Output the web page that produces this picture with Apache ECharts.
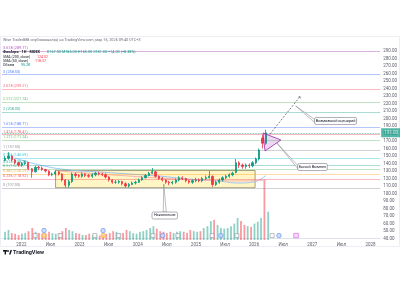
<!DOCTYPE html>
<html><head><meta charset="utf-8">
<script src="https://cdn.jsdelivr.net/npm/echarts@6/dist/echarts.min.js"></script>
<style>html,body{margin:0;padding:0;background:#fff}#c{width:400px;height:300px}</style>
</head><body><div id="c"></div>
<script>
// ---------- DATA ----------
const candleStartUTC = [2021, 8, 20];   // first candle (2021-09-20)
const candleStepDays = 21;
const openV  = [144,147,150,145,141,138,140,141,133,129, 135,134,132,130,125,126,129,126,118,111, 116,126,124,123,126,124,123,125,127,126, 125,122,118,115,115,116,113,110,112,114, 115,118,121,124,127,129,123,120,118,115, 114,115,118,121,120,117,115,117,118,117, 120,121,123,112,115,118,121,123,125,128, 141,138,136,138,137,141,146,174,167];
const closeV = [147,150,145,141,138,140,141,133,129,135, 134,132,130,125,126,129,126,118,111,116, 126,124,123,126,124,123,125,127,126,125, 122,118,115,115,116,113,110,112,114,115, 118,121,124,127,129,123,120,118,115,114, 115,118,121,120,117,115,117,118,117,120, 121,123,112,115,118,121,123,125,127,141, 138,136,138,137,141,146,158,167,181];
const lowV   = [143,145,143,139,136,136,138,131,121,128, 131,130,128,123,123,124,124,116,108,108, 114,121,121,121,122,121,121,123,124,123, 120,116,113,113,113,111,108,108,111,112, 114,117,120,123,126,121,118,116,113,111, 112,113,116,118,115,113,113,115,115,115, 118,120,109,110,113,116,119,121,123,127, 134,133,133,134,135,139,144,160,165];
const highV  = [150,155,151,146,142,142,144,142,134,137, 137,136,133,131,128,131,130,127,119,118, 128,128,126,128,127,126,127,129,129,128, 127,123,119,118,118,117,115,114,116,117, 120,123,126,129,134,130,124,122,119,117, 117,120,123,123,121,118,119,121,120,122, 124,130,124,117,120,123,125,127,129,146, 143,140,140,140,143,148,160,178,185];
const volumeV= [13,16,11,10,8,10,11,14,19,13, 11,10,10,13,11,10,11,14,19,16, 14,11,10,8,8,10,8,8,7,8, 10,11,14,13,10,11,16,14,11,10, 13,14,16,19,22,18,14,13,11,13, 11,13,14,13,11,16,14,13,14,19, 22,30,32,24,19,18,19,22,26,35, 30,24,22,21,26,29,35,95,45];
// x positions are months since 2021-09-01
const xTickMonths = [4,10,16,22,28,34,40,46,52,58,64,70,76];
const xTickLabels = ['2022','Июл','2023','Июл','2024','Июл','2025','Июл','2026','Июл','2027','Июл','2028'];
const maSlow = [[2.66,147.3],[7.78,138],[13.92,131.3],[20.06,128.7],[26.2,126],[32.34,123.3],[38.48,119.3],[44.63,116.7],[48.72,114],[51.79,115.3],[54.45,124]];
const maFast = [[11.87,130],[20.06,126],[26.2,123.3],[32.34,120.7],[40.53,118],[48.72,116.7],[54.45,118]];
const fibBase = 107, fibRange = 50.5;
const fibLevels = [0,0.236,0.382,0.5,0.618,0.786,1,1.272,1.414,1.618,2,2.272,2.618,3,3.618];
const fibColors = ['#787b86','#f23645','#ff9800','#4caf50','#089981','#00bcd4','#787b86','#4caf50','#f23645','#2962ff','#089981','#4caf50','#f23645','#2962ff','#9c27b0'];
const boxRange = [[11.05,130.7],[52.2,107.7]];
const pennant = [[53.84,180.7],[57.52,171.3],[54.25,156.7]];
const scenarioPath = [[55.27,179.3],[61.41,228.7]];
const lastPrice = 181;
const evGray = [6.8,11.9,19.0,23.9,30.9,36.0,43.0,48.1,55.3];
const evBlueHigh = [8.6,20.7];
const evBlueLow = [32.9,44.8,56.7];
const evOrange = [8.6,20.7];
const evPink = [60.2];
const notes = [
  {text:'Возможный сценарий', anchor:[60.6,216.7], box:[64.48,196.7]},
  {text:'Бычий Вымпел', anchor:[56.7,167.3], box:[61.0,135.3]},
  {text:'Накопление', anchor:[33.37,112.7], box:[33.57,75.3]}
];

// ---------- BUILD ----------
function toMonths(ms){const d=new Date(ms);return (d.getUTCFullYear()-2021)*12+(d.getUTCMonth()+1-9)+(d.getUTCDate()-1)/30.44;}
const startMs = Date.UTC(...candleStartUTC);
const candleX = closeV.map((_,i)=>toMonths(startMs+i*candleStepDays*86400000));
const candleData = closeV.map((c,i)=>[candleX[i],openV[i],c,lowV[i],highV[i]]);
const UP='#089981', DN='#f23645';
const volData = volumeV.map((v,i)=>({value:[candleX[i],v],itemStyle:{color:(closeV[i]>=openV[i]?'rgba(8,153,129,0.45)':'rgba(242,54,69,0.5)')}}));
const FONT='Roboto';

const fibLines = fibLevels.map((l,i)=>({
  yAxis: fibBase+l*fibRange,
  lineStyle:{color:fibColors[i],opacity:0.35,width:1,type:'solid'},
  label:{formatter:l+' ('+(fibBase+l*fibRange).toFixed(2)+')',color:fibColors[i],opacity:0.8}
}));

const chart = echarts.init(document.getElementById('c'));
chart.setOption({
  animation:false,
  backgroundColor:'#fff',
  textStyle:{fontFamily:FONT},
  grid:[
    {left:2,right:17,top:43.5,bottom:61.5},
    {left:2,right:17,top:177,bottom:60}
  ],
  xAxis:[
    {type:'value',gridIndex:0,min:0,max:78,
     axisLine:{show:true,lineStyle:{color:'#e0e3eb'}},axisTick:{show:false},splitLine:{show:false},
     axisLabel:{customValues:xTickMonths,fontSize:4.5,color:'#5d606b',margin:4,fontFamily:FONT,
       formatter:v=>{const k=xTickMonths.indexOf(Math.round(v));return k>=0?xTickLabels[k]:'';}}},
    {type:'value',gridIndex:1,min:0,max:78,show:false}
  ],
  yAxis:[
    {type:'value',gridIndex:0,position:'right',min:40,max:300,interval:10,
     axisLine:{show:false},axisTick:{show:false},splitLine:{show:false},
     axisLabel:{fontSize:4.5,color:'#5d606b',margin:3,showMaxLabel:false,fontFamily:FONT,formatter:v=>v.toFixed(2)}},
    {type:'value',gridIndex:1,min:0,max:100,show:false}
  ],
  series:[
    {name:'fib',type:'line',xAxisIndex:0,yAxisIndex:0,data:[[0,fibBase]],showSymbol:false,lineStyle:{opacity:0},z:1,silent:true,
     markLine:{symbol:'none',silent:true,label:{position:'insideStartTop',fontSize:3.8,distance:1,fontFamily:FONT},data:fibLines},
     markArea:{silent:true,itemStyle:{color:'rgba(255,226,90,0.35)',borderColor:'#8f8a62',borderWidth:0.8},
       data:[[{xAxis:boxRange[0][0],yAxis:boxRange[0][1]},{xAxis:boxRange[1][0],yAxis:boxRange[1][1]}]]}},
    {name:'SMA slow',type:'line',data:maSlow,smooth:true,showSymbol:false,lineStyle:{color:'#90bff9',width:0.9},z:3,silent:true},
    {name:'SMA fast',type:'line',data:maFast,smooth:true,showSymbol:false,lineStyle:{color:'#f7a9b0',width:0.9},z:3,silent:true},
    {name:'price',type:'candlestick',xAxisIndex:0,yAxisIndex:0,data:candleData,encode:{x:0,y:[1,2,3,4]},barWidth:1.8,z:5,
     itemStyle:{color:UP,color0:DN,borderColor:UP,borderColor0:DN,borderWidth:0.8},
     markLine:{symbol:'none',silent:true,data:[{yAxis:lastPrice}],
       lineStyle:{color:UP,type:'dotted',width:0.8,opacity:0.7},
       label:{position:'end',formatter:lastPrice.toFixed(2),backgroundColor:UP,color:'#fff',fontSize:4.5,padding:[2,3],distance:1,fontFamily:FONT}}},
    {name:'vol',type:'bar',xAxisIndex:1,yAxisIndex:1,data:volData,barWidth:1.8,z:2,silent:true},
    {type:'scatter',xAxisIndex:1,yAxisIndex:1,data:evGray.map(m=>[m,7]),symbol:'rect',symbolSize:4,itemStyle:{color:'#fff',borderColor:'#9598a1',borderWidth:0.8},z:6,silent:true},
    {type:'scatter',xAxisIndex:1,yAxisIndex:1,data:evOrange.map(m=>[m,7]),symbol:'circle',symbolSize:4.5,itemStyle:{color:'#fbd38d',borderColor:'#f5a623',borderWidth:0.8},z:6,silent:true},
    {type:'scatter',xAxisIndex:1,yAxisIndex:1,data:evBlueHigh.map(m=>[m,15]).concat(evBlueLow.map(m=>[m,7])),symbol:'circle',symbolSize:4.5,itemStyle:{color:'#c5d5fb',borderColor:'#5b8def',borderWidth:0.8},z:6,silent:true},
    {type:'scatter',xAxisIndex:1,yAxisIndex:1,data:evPink.map(m=>[m,7]),symbol:'rect',symbolSize:4.5,itemStyle:{color:'#f6d3fb',borderColor:'#d45ce6',borderWidth:0.8},z:6,silent:true}
  ]
});

// ---------- ANNOTATIONS ----------
const px = p => chart.convertToPixel({gridIndex:0}, p);
const g = [];
g.push({type:'polygon',shape:{points:pennant.map(px)},style:{fill:'rgba(156,39,176,0.18)',stroke:'#9c27b0',lineWidth:0.8},z:20});
const s0=px(scenarioPath[0]), s1=px(scenarioPath[1]);
g.push({type:'line',shape:{x1:s0[0],y1:s0[1],x2:s1[0],y2:s1[1]},style:{stroke:'#5d606b',lineWidth:0.8,lineDash:[2,1.5]},z:20});
g.push({type:'polyline',shape:{points:[[s1[0]-1.5,s1[1]+0.5],[s1[0],s1[1]-1],[s1[0]+0.8,s1[1]+1.5]]},style:{stroke:'#5d606b',lineWidth:0.6,fill:null},z:20});
notes.forEach((n,i)=>{
  const a=px(n.anchor), b=px(n.box);
  const w = n.text.length*2.05+5, h=7;
  let bx, by;
  if(i===2){bx=b[0]-w/2; by=b[1];}
  else {bx=b[0]; by=b[1]-h/2;}
  let e1,e2;
  if(i===2){e1=[bx+w/2-1.5,by];e2=[bx+w/2+1.5,by];}
  else {e1=[bx,by+h/2-1.5];e2=[bx,by+h/2+1.5];}
  g.push({type:'polygon',shape:{points:[a,e1,e2]},style:{fill:'#fff',stroke:'#787b86',lineWidth:0.5},z:21});
  g.push({type:'rect',shape:{x:bx,y:by,width:w,height:h,r:1.5},style:{fill:'#fff',stroke:'#787b86',lineWidth:0.6},z:22});
  g.push({type:'text',x:bx+w/2,y:by+h/2,style:{text:n.text,fill:'#131722',font:'3.8px '+FONT,align:'center',verticalAlign:'middle'},z:23});
});
g.push({type:'text',left:3,top:38.5,style:{text:'Wise Trader888 опубликовал(а) на TradingView.com, мар 16, 2026 09:40 UTC+3',fill:'#6a6d78',font:'3.8px '+FONT},z:30});
g.push({type:'text',left:3,top:46,style:{text:'{a|ФосАгро · 1Н · MOEX}  {b|О167.00 М185.00 Н165.00 З181.00 +14.00 (+8.38%)}',
  rich:{a:{fill:'#131722',font:'bold 3.8px '+FONT},b:{fill:UP,font:'3.8px '+FONT}}},z:30});
g.push({type:'text',left:3,top:51.5,style:{text:'{a|SMA (200, close)}  {b|124.02}',rich:{a:{fill:'#131722',font:'3.6px '+FONT},b:{fill:DN,font:'3.6px '+FONT}}},z:30});
g.push({type:'text',left:3,top:55.5,style:{text:'{a|SMA (50, close)}  {b|118.37}',rich:{a:{fill:'#131722',font:'3.6px '+FONT},b:{fill:DN,font:'3.6px '+FONT}}},z:30});
g.push({type:'text',left:3,top:59.5,style:{text:'{a|Объем}  {b|95.2K}',rich:{a:{fill:'#131722',font:'3.6px '+FONT},b:{fill:UP,font:'3.6px '+FONT}}},z:30});
g.push({type:'rect',shape:{x:0.5,y:36.5,width:399,height:210},style:{fill:null,stroke:'#e0e3eb',lineWidth:0.6},z:0,silent:true});
g.push({type:'rect',shape:{x:3,y:250,width:4,height:1.6},style:{fill:'#131722'},z:30});
g.push({type:'rect',shape:{x:4.6,y:250,width:1.4,height:4.5},style:{fill:'#131722'},z:30});
g.push({type:'circle',shape:{cx:8,cy:251,r:0.9},style:{fill:'#131722'},z:30});
g.push({type:'polygon',shape:{points:[[9,254.5],[10.5,250],[12,250],[10.5,254.5]]},style:{fill:'#131722'},z:30});
g.push({type:'text',left:13,top:249.3,style:{text:'TradingView',fill:'#131722',font:'bold 5.5px '+FONT},z:30});
chart.setOption({graphic:{elements:g}});
</script></body></html>
